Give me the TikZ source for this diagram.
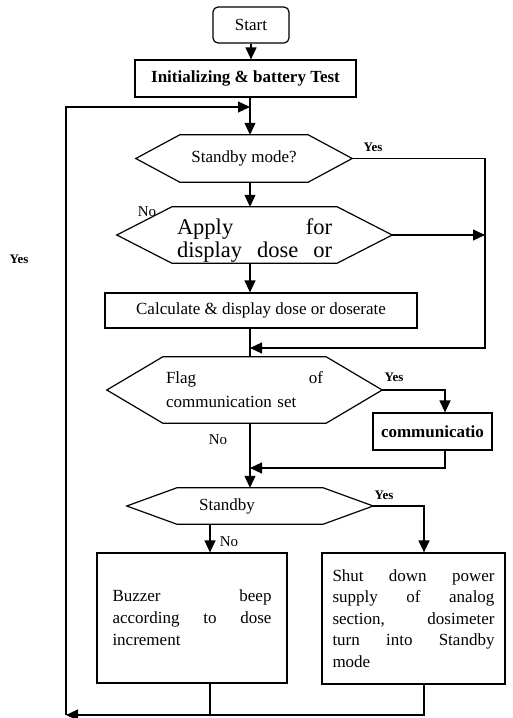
\documentclass[tikz,border=0pt]{standalone}
\usepackage{fontspec}
\setmainfont{Liberation Serif}
\usetikzlibrary{arrows.meta,calc}
\newcommand\hexoutline[2]{%
  \draw[ln] (#1.west) -- ($(#1.north west)+(#2,0)$) -- ($(#1.north east)+(-#2,0)$) -- (#1.east)
    -- ($(#1.south east)+(-#2,0)$) -- ($(#1.south west)+(#2,0)$) -- cycle;}
\begin{document}
\begin{tikzpicture}[x=1pt,y=-1pt,
  ln/.style={line width=1.2pt, line join=miter},
  arr/.style={ln, -{Triangle[length=12pt,width=11pt]}},
  base/.style={font=\fontsize{17}{22}\selectfont, inner sep=0pt},
  boxn/.style={base, draw, line width=1.2pt, fill=white},
  hexn/.style={base, draw=none},
  yes/.style={font=\fontsize{13}{15}\selectfont\bfseries, inner sep=0pt},
  no/.style={font=\fontsize{15}{17}\selectfont, inner sep=0pt}]
\useasboundingbox (0,0) rectangle (513,718);

% main column coordinates
\coordinate (m) at (250,0);
\coordinate (rx) at (485,0);
\coordinate (cx) at (445,0);
\coordinate (sx) at (424,0);
\coordinate (nx) at (210,0);
\coordinate (lt) at (66,107);
\coordinate (lb) at (66,715);
\coordinate (j1) at (250,348);
\coordinate (j2) at (250,468);

% nodes
\node[boxn, rounded corners=5pt, minimum width=76, minimum height=36] (start) at (251,25) {Start};
\node[boxn, font=\fontsize{17}{22}\selectfont\bfseries, minimum width=221, minimum height=37] (init) at (245.5,78.5) {Initializing \& battery Test};

\node[hexn, minimum width=216, minimum height=47] (sm) at (244,158.5) {Standby mode?};
\hexoutline{sm}{44}

\node[hexn, minimum width=275, minimum height=56] (ap) at (254.5,235) {};
\node[base, text width=155, align=left, font=\fontsize{22.5}{23}\selectfont,
      yshift=-6pt] (apt) at (ap.center) {Apply\hfill for\\display\hfill dose\hfill or};
\hexoutline{ap}{55}

\node[boxn, minimum width=312, minimum height=35] (calc) at (261,310.5) {Calculate \& display dose or doserate};

\node[hexn, minimum width=275, minimum height=66, text width=157, align=left,
      font=\fontsize{17}{24}\selectfont] (fl) at (244.5,390) {Flag\hfill of\\communication set};
\hexoutline{fl}{56}

\node[boxn, font=\fontsize{17}{22}\selectfont\bfseries, minimum width=119, minimum height=37] (cm) at (432.5,431.5) {communicatio};

\node[hexn, minimum width=246, minimum height=36] (sb) at (250,506) {Standby\kern46pt};
\hexoutline{sb}{50}

\node[boxn, minimum width=190, minimum height=130, text width=159, align=left] (bz) at (192,618)
  {Buzzer\hfill beep\\according\hfill to\hfill dose\\increment};
\node[boxn, minimum width=183, minimum height=131, text width=162, align=left,
      font=\fontsize{17}{21.5}\selectfont] (sd) at (413.5,618.5)
  {Shut\hfill down\hfill power\\supply\hfill of\hfill analog\\section,\hfill dosimeter\\turn\hfill into\hfill Standby\\mode};

% labels
\node[yes] (y1) at (373,147) {Yes};
\node[no] (n1) at (147,212) {No};
\node[yes] (y2) at (394,377) {Yes};
\node[no] (n2) at (218,440) {No};
\node[yes] (y3) at (384,495) {Yes};
\node[no] (n3) at (229,542) {No};
\node[yes] (y4) at (19,259) {Yes};

% connectors
\draw[arr] (start.south) -- (start.south |- init.north);
\draw[arr] (init.south -| m) -- (sm.north -| m);
\draw[arr] (lb) -- (lt) -- (lt -| m);
\draw[arr] (sm.south -| m) -- (ap.north -| m);
\draw[arr] (sm.east) -- (sm.east -| rx) -- (rx |- j1) -- (j1);
\draw[arr] (ap.east) -- (ap.east -| rx);
\draw[arr] (ap.south -| m) -- (calc.north -| m);
\draw[ln] (calc.south -| m) -- (fl.north -| m);
\draw[arr] (fl.east) -- (fl.east -| cx) -- (cx |- cm.north);
\draw[arr] (cm.south -| cx) -- (cx |- j2) -- (j2);
\draw[arr] (fl.south -| m) -- (sb.north -| m);
\draw[arr] (sb.east) -- (sb.east -| sx) -- (sx |- sd.north);
\draw[arr] (sb.south -| nx) -- (nx |- bz.north);
\draw[ln] (bz.south -| nx) -- (nx |- lb);
\draw[arr] (sd.south -| sx) -- (sx |- lb) -- (lb);
\end{tikzpicture}
\end{document}
